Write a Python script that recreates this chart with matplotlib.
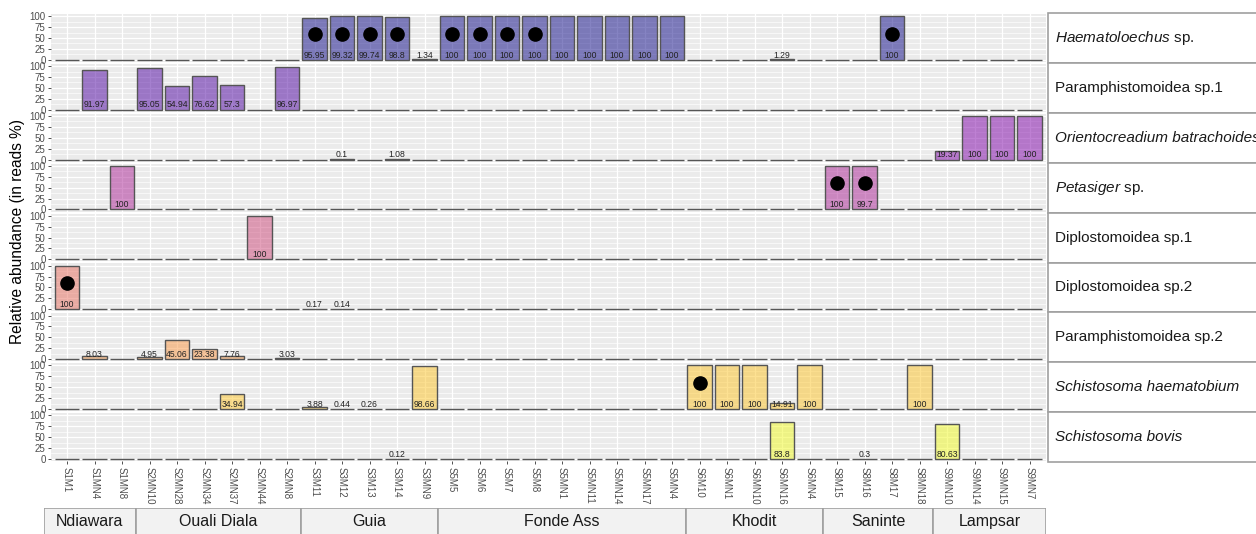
import numpy as np
import matplotlib
matplotlib.use("Agg")
import matplotlib.pyplot as plt
from matplotlib.patches import Rectangle

plt.rcParams['font.family'] = ['Liberation Sans', 'DejaVu Sans']
plt.rcParams['mathtext.fontset'] = 'custom'
plt.rcParams['mathtext.rm'] = 'Liberation Sans'
plt.rcParams['mathtext.it'] = 'Liberation Sans:italic'

# samples (x axis)
samples = ['S1M1', 'S1MN4', 'S1MN8', 'S2MN10', 'S2MN28', 'S2MN34', 'S2MN37', 'S2MN44', 'S2MN8',
           'S3M11', 'S3M12', 'S3M13', 'S3M14', 'S3MN9',
           'S5M5', 'S5M6', 'S5M7', 'S5M8', 'S5MN1', 'S5MN11', 'S5MN14', 'S5MN17', 'S5MN4',
           'S6M10', 'S6MN1', 'S6MN10', 'S6MN16', 'S6MN4',
           'S8M15', 'S8M16', 'S8M17', 'S8MN18',
           'S9MN10', 'S9MN14', 'S9MN15', 'S9MN7']

sites = ['Ndiawara', 'Ouali Diala', 'Guia', 'Fonde Ass', 'Khodit', 'Saninte', 'Lampsar']
site_counts = [3, 6, 5, 9, 5, 4, 4]

taxa = [r'$\it{Haematoloechus}$ sp.', 'Paramphistomoidea sp.1', 'Orientocreadium batrachoides',
        r'$\it{Petasiger}$ sp.', 'Diplostomoidea sp.1', 'Diplostomoidea sp.2',
        'Paramphistomoidea sp.2', 'Schistosoma haematobium', 'Schistosoma bovis']
taxa_italic = [False, False, True, False, False, False, False, True, True]

# relative abundance per taxon {sample: value}, other samples = 0
haematoloechus = {'S3M11': 95.95, 'S3M12': 99.32, 'S3M13': 99.74, 'S3M14': 98.8, 'S3MN9': 1.34,
                  'S5M5': 100, 'S5M6': 100, 'S5M7': 100, 'S5M8': 100, 'S5MN1': 100, 'S5MN11': 100,
                  'S5MN14': 100, 'S5MN17': 100, 'S5MN4': 100, 'S6MN16': 1.29, 'S8M17': 100}
paramph1 = {'S1MN4': 91.97, 'S2MN10': 95.05, 'S2MN28': 54.94, 'S2MN34': 76.62, 'S2MN37': 57.3,
            'S2MN8': 96.97}
orientocreadium = {'S3M12': 0.1, 'S3M14': 1.08, 'S9MN10': 19.37, 'S9MN14': 100, 'S9MN15': 100,
                   'S9MN7': 100}
petasiger = {'S1MN8': 100, 'S8M15': 100, 'S8M16': 99.7}
diplo1 = {'S2MN44': 100}
diplo2 = {'S1M1': 100, 'S3M11': 0.17, 'S3M12': 0.14}
paramph2 = {'S1MN4': 8.03, 'S2MN10': 4.95, 'S2MN28': 45.06, 'S2MN34': 23.38, 'S2MN37': 7.76,
            'S2MN8': 3.03}
s_haema = {'S2MN37': 34.94, 'S3M11': 3.88, 'S3M12': 0.44, 'S3M13': 0.26, 'S3MN9': 98.66,
           'S6M10': 100, 'S6MN1': 100, 'S6MN10': 100, 'S6MN16': 14.91, 'S6MN4': 100, 'S8MN18': 100}
s_bovis = {'S3M14': 0.12, 'S6MN16': 83.8, 'S8M16': 0.3, 'S9MN10': 80.63}
abund = [haematoloechus, paramph1, orientocreadium, petasiger, diplo1, diplo2, paramph2, s_haema, s_bovis]

# samples marked with a dot
dots = [['S3M11', 'S3M12', 'S3M13', 'S3M14', 'S5M5', 'S5M6', 'S5M7', 'S5M8', 'S8M17'],
        [], [], ['S8M15', 'S8M16'], [], ['S1M1'], [], ['S6M10'], []]

W, H = 1256, 534
fig = plt.figure(figsize=(W / 100, H / 100), dpi=100)


def px(x0, y0, x1, y1):
    return [x0 / W, 1 - y1 / H, (x1 - x0) / W, (y1 - y0) / H]


colors = plt.cm.plasma(np.linspace(0, 1, len(taxa)))
x = np.arange(len(samples))
left, right = 50.5, 1046
top0, step, ph = 14, 49.9, 47.9
grey = '#4d4d4d'

for i, t in enumerate(taxa):
    top = top0 + i * step
    ax = fig.add_axes(px(left, top, right, top + ph))
    ax.set_facecolor('#EBEBEB')
    vals = np.array([abund[i].get(s, 0) for s in samples])
    ax.bar(x, vals, width=0.9, color=colors[i], alpha=0.5, edgecolor='none', zorder=2)
    ax.bar(x, vals, width=0.9, facecolor='none', edgecolor='#555555', linewidth=1.0, zorder=3)
    for xi, v in zip(x, vals):
        if v > 0:
            ax.text(xi, 0.5, '{:g}'.format(v), ha='center', va='bottom', fontsize=6.2,
                    color='#222222', zorder=4)
    dx = [samples.index(s) for s in dots[i]]
    ax.plot(dx, [60] * len(dx), 'o', color='black', markersize=9.5, zorder=5)

    ax.set_xlim(-0.6, len(samples) - 0.4)
    ax.set_ylim(-5, 105)
    ax.set_yticks([0, 25, 50, 75, 100])
    ax.set_yticks([12.5, 37.5, 62.5, 87.5], minor=True)
    ax.set_xticks(x)
    ax.grid(which='major', color='white', linewidth=0.9, zorder=0)
    ax.grid(which='minor', axis='y', color='white', linewidth=0.45, zorder=0)
    ax.set_axisbelow(True)
    for sp in ax.spines.values():
        sp.set_visible(False)
    ax.tick_params(axis='y', which='major', labelsize=7, colors='#333333', length=2.5,
                   width=0.6, pad=1, labelcolor=grey)
    ax.tick_params(axis='y', which='minor', length=0)
    if i == len(taxa) - 1:
        ax.set_xticklabels(samples, rotation=270, fontsize=7, color=grey)
        ax.tick_params(axis='x', length=2.5, width=0.6, colors='#333333', pad=2, labelcolor=grey)
    else:
        ax.tick_params(axis='x', length=0, labelbottom=False)

    # strip on the right
    sax = fig.add_axes(px(1048, top - 1, 1320, top - 1 + step))
    sax.set_xlim(0, 1)
    sax.set_ylim(0, 1)
    sax.axis('off')
    sax.add_patch(Rectangle((0, 0), 1, 1, facecolor='white', edgecolor='#a0a0a0', linewidth=1.2,
                            transform=sax.transAxes, clip_on=False))
    sax.text(7 / 272, 0.5, t, ha='left', va='center', fontsize=11,
             style='italic' if taxa_italic[i] else 'normal', color='#1a1a1a')

# site boxes at the bottom
gax = fig.add_axes(px(44, 508, 1046, 542))
gax.set_xlim(-0.84, len(samples) - 0.4)
gax.set_ylim(0, 1)
gax.axis('off')
edges = np.concatenate([[-0.84], np.cumsum(site_counts)[:-1] - 0.5, [len(samples) - 0.4]])
for k, name in enumerate(sites):
    gax.add_patch(Rectangle((edges[k], 0), edges[k + 1] - edges[k], 1, facecolor='#F2F2F2',
                            edgecolor='#a0a0a0', linewidth=1.2))
    gax.text((edges[k] + edges[k + 1]) / 2, 0.6, name, ha='center', va='center', fontsize=11.5,
             color='#1a1a1a')

fig.text(18 / W, 1 - 232 / H, 'Relative abundance (in reads %)', rotation=90, ha='center',
         va='center', fontsize=11.2, color='black')

fig.savefig('out.png', dpi=100)
